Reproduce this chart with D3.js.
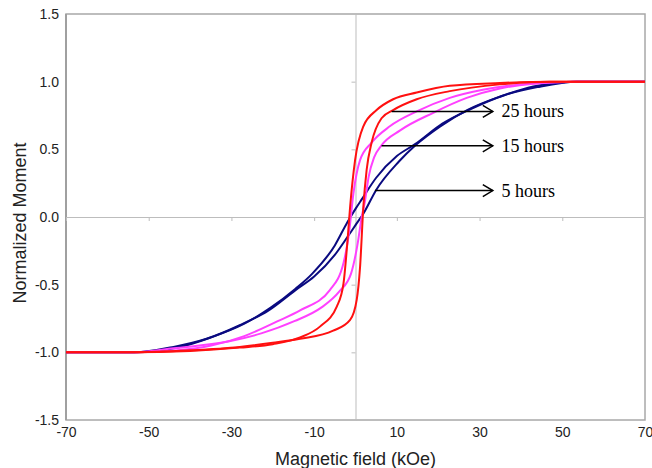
<!DOCTYPE html>
<html>
<head>
<meta charset="utf-8">
<script src="https://cdn.jsdelivr.net/npm/d3@7"></script>
<style>
  body { margin: 0; background: #fff; }
  svg { display: block; }
</style>
</head>
<body>
<div id="container"></div>
<script>
// Dados (H em kOe, M normalizado)
var xTicks = [-70, -50, -30, -10, 10, 30, 50, 70];
var yTicks = [-1.5, -1.0, -0.5, 0.0, 0.5, 1.0, 1.5];

// 5 hours (azul)
var navyUpH = [-70, -53.5, -44, -36, -28, -21, -14.5, -10, -5, -2, 0, 2, 5, 10.5, 14.5, 20.5, 27, 35, 43, 53.5, 70];
var navyUpM = [-1, -1, -0.96, -0.9, -0.8, -0.69, -0.54, -0.44, -0.28, -0.15, -0.06, 0.03, 0.2, 0.41, 0.53, 0.67, 0.79, 0.89, 0.965, 1, 1];
var navyDownH = [-70, -53.5, -43, -35, -27, -20.5, -14.5, -10.5, -5, -2, 0, 1.5, 5, 10, 14.5, 21, 28, 36, 44, 53.5, 70];
var navyDownM = [-1, -1, -0.965, -0.89, -0.79, -0.67, -0.53, -0.42, -0.21, -0.04, 0.06, 0.13, 0.29, 0.45, 0.54, 0.69, 0.8, 0.9, 0.96, 1, 1];

// 15 hours (magenta)
var magUpH = [-70, -53, -44, -30.8, -22.8, -14.8, -8.3, -3.9, -1.1, 0.5, 1.5, 2.3, 3.2, 4.5, 6.3, 10.8, 18.8, 26.9, 34.9, 42.9, 53.6, 70];
var magUpM = [-1, -1, -0.97, -0.92, -0.86, -0.77, -0.67, -0.55, -0.42, -0.2, 0, 0.12, 0.3, 0.44, 0.53, 0.64, 0.77, 0.88, 0.95, 0.985, 1, 1];
var magDownH = [-70, -53.6, -42.9, -34.9, -26.9, -18.8, -13.4, -6.2, -2.9, -1.5, -0.5, 1.1, 3.9, 8.3, 14.8, 22.8, 30.8, 40, 53, 70];
var magDownM = [-1, -1, -0.985, -0.95, -0.88, -0.77, -0.69, -0.54, -0.34, -0.1, 0.175, 0.42, 0.55, 0.67, 0.78, 0.88, 0.94, 0.98, 1, 1];

// 25 hours (vermelho)
var redUpH = [-70, -55, -40, -28, -20, -13.4, -5.4, -1.3, 0.3, 1.1, 1.9, 2.7, 3.9, 6.3, 9.1, 14.8, 22.8, 34.9, 47, 70];
var redUpM = [-1, -1, -0.985, -0.96, -0.93, -0.9, -0.84, -0.76, -0.61, -0.37, 0.076, 0.35, 0.55, 0.73, 0.79, 0.87, 0.93, 0.98, 1, 1];
var redDownH = [-70, -55, -40, -28, -20, -13.4, -8.6, -4.5, -2.9, -2.0, -1.3, -0.1, 1.9, 5.1, 9.1, 14.8, 22.8, 34.9, 47, 70];
var redDownM = [-1, -1, -0.99, -0.965, -0.94, -0.89, -0.81, -0.66, -0.49, -0.2, 0.076, 0.42, 0.67, 0.79, 0.87, 0.92, 0.97, 0.99, 1, 1];

// Anotações
var annLabels = ["25 hours", "15 hours", "5 hours"];
var annStartH = [8.75, 6.3, 4.7];
var annM = [0.78, 0.526, 0.195];
var annEndH = 33.2;
var annTextH = 35.3;

var margin = { top: 14, left: 66, right: 7, bottom: 48 },
  width = 652 - margin.left - margin.right,
  height = 468 - margin.top - margin.bottom;

var svg = d3.select("#container")
  .append("svg")
  .attr("width", 652)
  .attr("height", 468)
  .append("g")
  .attr("transform", "translate(" + margin.left + "," + margin.top + ")");

// Escalas
var x = d3.scaleLinear().domain([-70, 70]).range([0, width]);
var y = d3.scaleLinear().domain([-1.5, 1.5]).range([height, 0]);

// Formato com hífen simples, como no original
var fmtX = function(d) { return d3.format("d")(d).replace("\u2212", "-") };
var fmtY = function(d) { return d3.format(".1f")(d).replace("\u2212", "-") };

// Moldura
svg.append("rect")
  .attr("x", 0).attr("y", 0)
  .attr("width", width).attr("height", height)
  .attr("fill", "none")
  .attr("stroke", "#a8a8a8")
  .attr("stroke-width", 1.5);

svg.append("line")
  .attr("x1", 0).attr("x2", 0)
  .attr("y1", 0).attr("y2", height)
  .attr("stroke", "#a0a0a0")
  .attr("stroke-width", 2);

// Eixos que cruzam no zero
var xZero = svg.append("g")
  .attr("transform", "translate(0," + y(0) + ")")
  .call(d3.axisBottom(x).tickValues(xTicks).tickSize(4).tickFormat(""));
var yZero = svg.append("g")
  .attr("transform", "translate(" + x(0) + ",0)")
  .call(d3.axisLeft(y).tickValues(yTicks).tickSize(4).tickFormat(""));
[xZero, yZero].forEach(function(g) {
  g.select(".domain").attr("stroke", "#bdbdbd").attr("stroke-width", 1);
  g.selectAll(".tick line").attr("stroke", "#bdbdbd");
});

// Rótulos dos ticks
var xAxis = svg.append("g")
  .attr("transform", "translate(0," + height + ")")
  .call(d3.axisBottom(x).tickValues(xTicks).tickSize(0).tickPadding(7).tickFormat(fmtX));
var yAxis = svg.append("g")
  .call(d3.axisLeft(y).tickValues(yTicks).tickSize(0).tickPadding(7).tickFormat(fmtY));
[xAxis, yAxis].forEach(function(g) {
  g.select(".domain").remove();
  g.selectAll("text")
    .attr("font-family", "Liberation Sans, Arial, sans-serif")
    .attr("font-size", 14)
    .attr("fill", "#222");
});

// Curvas de histerese
var line = d3.line()
  .x(function(d) { return x(d[0]) })
  .y(function(d) { return y(d[1]) })
  .curve(d3.curveMonotoneX);

var series = [
  { h: navyUpH, m: navyUpM, color: "#0a0a80" },
  { h: navyDownH, m: navyDownM, color: "#0a0a80" },
  { h: magUpH, m: magUpM, color: "#ff40ff" },
  { h: magDownH, m: magDownM, color: "#ff40ff" },
  { h: redUpH, m: redUpM, color: "#ff1010" },
  { h: redDownH, m: redDownM, color: "#ff1010" }
];

svg.selectAll(".loop")
  .data(series)
  .enter().append("path")
  .attr("class", "loop")
  .attr("d", function(s) { return line(d3.zip(s.h, s.m)) })
  .attr("fill", "none")
  .attr("stroke", function(s) { return s.color })
  .attr("stroke-width", 2);

// Setas e textos
annLabels.forEach(function(label, i) {
  var yy = y(annM[i]);
  var xe = x(annEndH);
  svg.append("line")
    .attr("x1", x(annStartH[i])).attr("x2", xe)
    .attr("y1", yy).attr("y2", yy)
    .attr("stroke", "#000").attr("stroke-width", 1.5);
  svg.append("path")
    .attr("d", "M" + (xe - 10) + "," + (yy - 6) + "L" + xe + "," + yy + "L" + (xe - 10) + "," + (yy + 6))
    .attr("fill", "none")
    .attr("stroke", "#000").attr("stroke-width", 1.5);
  svg.append("text")
    .text(label)
    .attr("x", x(annTextH))
    .attr("y", yy + 6)
    .attr("font-family", "Liberation Serif, Times New Roman, serif")
    .attr("font-size", 18)
    .attr("fill", "#000");
});

// Títulos dos eixos
svg.append("text")
  .text("Magnetic field (kOe)")
  .attr("x", x(0))
  .attr("y", height + 45)
  .attr("text-anchor", "middle")
  .attr("font-family", "Liberation Sans, Arial, sans-serif")
  .attr("font-size", 18)
  .attr("fill", "#222");

svg.append("text")
  .text("Normalized Moment")
  .attr("transform", "translate(-40," + (y(0) + 6) + ") rotate(-90)")
  .attr("text-anchor", "middle")
  .attr("font-family", "Liberation Sans, Arial, sans-serif")
  .attr("font-size", 18)
  .attr("fill", "#222");
</script>
</body>
</html>
